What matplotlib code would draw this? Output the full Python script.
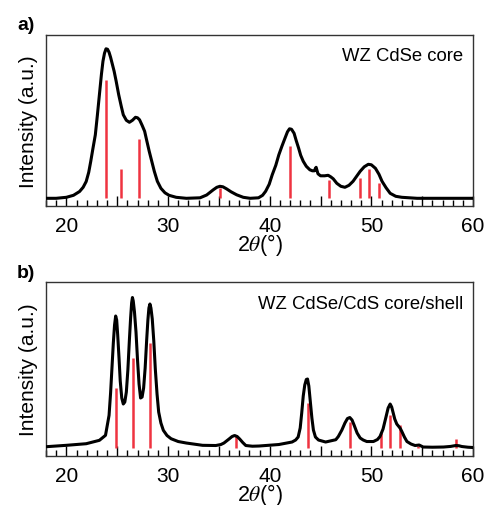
import numpy as np
import matplotlib
matplotlib.use('Agg')
import matplotlib.pyplot as plt
from matplotlib.ticker import MultipleLocator, FuncFormatter

plt.rcParams['font.family'] = ['Liberation Sans', 'DejaVu Sans']
plt.rcParams['mathtext.fontset'] = 'stix'

# a) WZ CdSe core - curva
a_x = [18, 19, 20, 20.7, 21.3, 21.65, 21.95, 22.2, 22.4, 22.6, 22.85, 23.05, 23.25, 23.45,
       23.6, 23.75, 23.9, 24.05, 24.2, 24.35, 24.5, 24.7, 24.9, 25.15, 25.4, 25.6, 25.9,
       26.2, 26.5, 26.8, 27.0, 27.2, 27.45, 27.7, 27.9, 28.15, 28.4, 28.65, 28.95, 29.3,
       29.7, 30.1, 30.8, 31.8, 33.15, 33.8, 34.45, 34.8, 35.1, 35.4, 35.75, 36.2, 36.75,
       37.4, 38.07, 38.9, 39.3, 39.6, 39.95, 40.25, 40.6, 40.9, 41.2, 41.5, 41.75, 41.95,
       42.15, 42.4, 42.6, 42.85, 43.05, 43.3, 43.6, 43.95, 44.2, 44.4, 44.5, 44.57, 44.65,
       44.75, 45.0, 45.4, 45.75, 46.0, 46.25, 46.6, 47.0, 47.4, 47.8, 48.2, 48.55, 48.9,
       49.3, 49.7, 50.0, 50.4, 50.75, 51.05, 51.45, 51.85, 52.4, 53.0, 54.5, 60]
a_y = [0, 0, 1, 3, 6.8, 11, 16.8, 26, 37, 49, 63.5, 83, 103.5, 124,
       137, 145, 149.5, 149, 146, 141, 135, 127, 117, 103.5, 92, 83.5, 78,
       76, 78, 81, 80.5, 78.5, 73, 67, 58, 47, 37, 27, 17, 10,
       5.5, 3, 1, 0, 0.5, 3.3, 8.5, 11, 12, 11.5, 9.5, 6.5, 3.5,
       1, 0, 0.5, 3, 7, 14, 23.5, 33, 43.5, 52, 60, 66.5, 69.5,
       69, 65, 58, 50, 43, 37, 32, 28.5, 27.5, 27.5, 30, 31, 28,
       24.5, 22.5, 22.5, 23, 21.5, 19.5, 15, 12, 11, 13, 17, 22, 27,
       31.5, 34, 33.5, 30, 24, 17, 10.5, 5, 2, 1, 0, 0]
a_ref_pos = [23.9, 25.4, 27.1, 35.1, 42.02, 45.82, 48.9, 49.72, 50.73]
a_ref_int = [118, 29, 59, 10, 52, 18, 20, 29, 15]

# b) WZ CdSe/CdS core/shell
b_x = [18, 20, 21.95, 23.25, 23.85, 24.2, 24.35, 24.5, 24.62, 24.74, 24.85, 24.95, 25.05,
       25.18, 25.3, 25.45, 25.6, 25.75, 25.9, 26.05, 26.2, 26.32, 26.42, 26.5, 26.58, 26.7,
       26.85, 27.0, 27.15, 27.3, 27.45, 27.6, 27.75, 27.9, 28.02, 28.12, 28.22, 28.32,
       28.45, 28.6, 28.75, 28.92, 29.08, 29.3, 29.54, 29.9, 30.3, 31.0, 31.8, 33.4, 34.7,
       35.2, 35.5, 35.75, 36.0, 36.3, 36.55, 36.8, 37.05, 37.35, 37.65, 38.3, 38.95, 40.9,
       42.2, 42.55, 42.8, 43.0, 43.15, 43.3, 43.45, 43.6, 43.72, 43.85, 44.0, 44.15, 44.3,
       44.5, 44.8, 45.5, 46.5, 46.75, 47.1, 47.4, 47.65, 47.88, 48.1, 48.3, 48.6, 48.9,
       49.2, 49.55, 50.2, 50.6, 50.85, 51.15, 51.45, 51.65, 51.85, 52.0, 52.15, 52.3, 52.5,
       52.7, 52.85, 53.0, 53.25, 53.5, 53.9, 54.3, 54.7, 55.1, 56.0, 57.1, 57.8, 58.3,
       58.6, 58.9, 59.5, 60]
b_y = [1.3, 2.7, 4.3, 7.7, 12.7, 32.7, 55, 82.7, 105, 123, 132, 128, 113,
       90, 67, 50, 44, 46, 56, 78, 108, 130, 145, 150.5, 147, 136,
       116, 88, 64, 50, 51, 60, 80, 108, 128, 140, 144, 140,
       129, 107, 79, 54, 36, 25, 17.7, 12.5, 9.3, 6.5, 5, 2.7, 2.5,
       3.5, 5, 7, 9, 11.5, 12.5, 11.5, 9, 5.5, 2.5, 1.8, 2, 3.5,
       6, 8, 11, 20, 35, 52, 63, 68.5, 69, 62, 46, 30, 18,
       11, 8, 6, 8.3, 11.5, 18, 25, 29.5, 30.5, 28, 23, 15, 10,
       8, 6.5, 6.5, 8.5, 11.5, 19, 31.5, 40, 44, 41, 35, 29, 24,
       21.5, 19.5, 16.5, 11, 6.5, 4, 2.5, 3, 1, 0.8, 1, 1.6, 2.5,
       2.3, 1.5, 0.8, 0.5]
b_ref_pos = [24.85, 26.55, 28.22, 36.64, 43.72, 47.88, 50.93, 51.88, 52.86, 54.6, 58.37]
b_ref_int = [60, 90, 105, 13, 45, 26, 15, 33, 23, 2, 9]

rojo = '#ef3340'

fig = plt.figure(figsize=(4.86, 5.06), dpi=100)
ax1 = fig.add_axes([0.0947, 0.5909, 0.8786, 0.338])
ax2 = fig.add_axes([0.0947, 0.0968, 0.8786, 0.3439])

paneles = [
    (ax1, a_x, a_y, a_ref_pos, a_ref_int, 'WZ CdSe core', 'a)', (-7.7, 163.3), 0.879, 1.064, -0.26),
    (ax2, b_x, b_y, b_ref_pos, b_ref_int, 'WZ CdSe/CdS core/shell', 'b)', (-8, 166), 0.874, 1.057, -0.25),
]

for ax, x, y, rp, ri, texto, letra, lim, ty, ly, xly in paneles:
    ax.vlines(rp, 0, ri, color=rojo, lw=1.8, zorder=2)
    ax.plot(x, y, color='black', lw=2.2, solid_joinstyle='round', zorder=3)
    ax.set_xlim(18, 60)
    ax.set_ylim(lim)
    ax.set_yticks([])
    ax.xaxis.set_major_locator(MultipleLocator(5))
    ax.xaxis.set_minor_locator(MultipleLocator(1))
    ax.xaxis.set_major_formatter(FuncFormatter(lambda v, p: '%d' % v if v % 10 == 0 else ''))
    ax.tick_params(axis='x', which='major', direction='in', length=7, width=1, labelsize=15, pad=7)
    ax.tick_params(axis='x', which='minor', direction='in', length=4.5, width=1)
    for s in ax.spines.values():
        s.set_linewidth(1.0)
        s.set_color('#333333')
    ax.set_ylabel('Intensity (a.u.)', fontsize=15, labelpad=6)
    # etiqueta del eje x puesta a mano para que quede como en la figura
    ax.text(0.5, xly, r'2$\mathit{\theta}$(°)', transform=ax.transAxes, ha='center', va='baseline',
            fontsize=15.5)
    ax.text(0.977, ty, texto, transform=ax.transAxes, ha='right', va='center', fontsize=13.3)
    ax.text(-0.068, ly, letra, transform=ax.transAxes, ha='left', va='center',
            fontsize=14, fontweight='bold')

plt.savefig('out.png', dpi=100)
